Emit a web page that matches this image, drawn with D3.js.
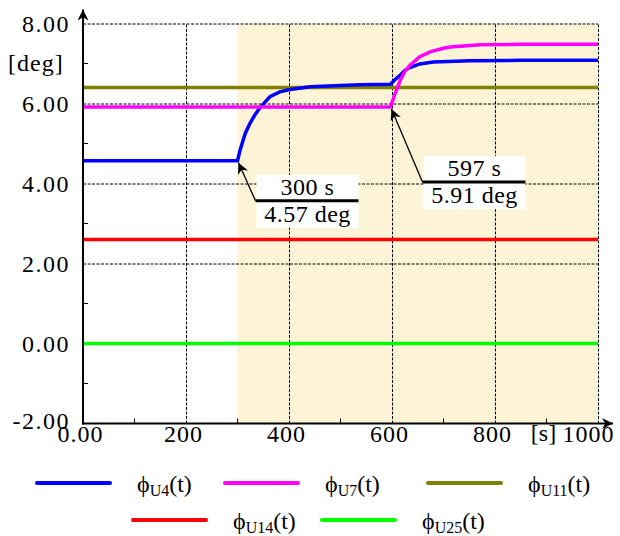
<!DOCTYPE html>
<html>
<head>
<meta charset="utf-8">
<script src="https://cdn.jsdelivr.net/npm/d3@7"></script>
<style>
  body { margin: 0; background: #fff; }
  svg { display: block; }
  svg text { font-family: 'Liberation Serif', 'Times New Roman', Times, serif; }
</style>
</head>
<body>
<div id="chart-area"></div>
<script>
// time axis and series values
const tBlue = [0, 300, 305, 315, 324, 334, 344, 363, 382, 402, 441, 500, 538, 597, 606, 616, 625, 635, 654, 680, 751, 850, 1000]
const vBlue = [4.57, 4.57, 4.83, 5.25, 5.5, 5.72, 5.9, 6.17, 6.29, 6.35, 6.42, 6.45, 6.47, 6.48, 6.6, 6.71, 6.83, 6.9, 6.99, 7.04, 7.07, 7.08, 7.08]
const tMagenta = [0, 597, 606, 616, 625, 635, 654, 674, 700, 713, 771, 850, 1000]
const vMagenta = [5.91, 5.91, 6.25, 6.58, 6.8, 6.96, 7.17, 7.29, 7.38, 7.41, 7.47, 7.48, 7.48]
const tFlat = [0, 1000]
const vOlive = [6.4, 6.4]
const vRed = [2.6, 2.6]
const vGreen = [0, 0]

const seriesNames = ['U4', 'U7', 'U11', 'U14', 'U25']
const seriesColors = ['#0000ff', '#ff00ff', '#808000', '#ff0000', '#00ff00']

const xTicks = [0, 200, 400, 600, 800, 1000]
const yTicks = [-2, 0, 2, 4, 6, 8]
const xMinor = [100, 300, 500, 700, 900]
const yMinor = [-1, 1, 3, 5, 7]

const shadeFrom = 300
const shadeTo = 1000

const annotations = [
    { t: 300, v: 4.57, top: '300 s', bottom: '4.57 deg' },
    { t: 597, v: 5.91, top: '597 s', bottom: '5.91 deg' }
]

const margin = { top: 23.5, right: 22, bottom: 112.5, left: 83 }
const width = 620 - margin.left - margin.right
const height = 536 - margin.top - margin.bottom

const svg = d3.select('#chart-area')
              .append('svg')
              .attr('width', 620)
              .attr('height', 536)

svg.append('defs').append('marker')
   .attr('id', 'arrow')
   .attr('viewBox', '0 0 10 10')
   .attr('refX', 10)
   .attr('refY', 5)
   .attr('markerWidth', 11)
   .attr('markerHeight', 11)
   .attr('markerUnits', 'userSpaceOnUse')
   .attr('orient', 'auto')
   .append('path')
   .attr('d', 'M0,0 L10,5 L0,10 L3,5 Z')
   .attr('fill', '#000')

const g = svg.append('g')
             .attr('transform', 'translate(' + margin.left + ',' + margin.top + ')')

const x = d3.scaleLinear().domain([0, 1000]).range([0, width])
const y = d3.scaleLinear().domain([-2, 8]).range([height, 0])

// shaded interval
g.append('rect')
 .attr('x', x(shadeFrom))
 .attr('y', 0)
 .attr('width', x(shadeTo) - x(shadeFrom))
 .attr('height', height)
 .attr('fill', '#fdf4d7')

// grid
const gridStyle = sel => {
    sel.select('.domain').remove()
    sel.selectAll('line')
       .attr('stroke', '#000')
       .attr('stroke-width', 1)
       .attr('stroke-dasharray', '3,1.5')
    sel.selectAll('text').remove()
}
g.append('g')
 .attr('transform', 'translate(0,' + height + ')')
 .call(d3.axisBottom(x).tickValues(xTicks.slice(1)).tickSize(-height))
 .call(gridStyle)
g.append('g')
 .call(d3.axisLeft(y).tickValues(yTicks.slice(1)).tickSize(-width))
 .call(gridStyle)

// minor ticks
g.append('g')
 .selectAll('line')
 .data(xMinor)
 .enter()
 .append('line')
 .attr('x1', d => x(d)).attr('x2', d => x(d))
 .attr('y1', height).attr('y2', height - 5)
 .attr('stroke', '#000')
g.append('g')
 .selectAll('line')
 .data(yMinor)
 .enter()
 .append('line')
 .attr('x1', 0).attr('x2', 5)
 .attr('y1', d => y(d)).attr('y2', d => y(d))
 .attr('stroke', '#000')

// series
const line = d3.line()
               .x(d => x(d[0]))
               .y(d => y(d[1]))
const series = [
    d3.zip(tFlat, vGreen),
    d3.zip(tFlat, vRed),
    d3.zip(tFlat, vOlive),
    d3.zip(tBlue, vBlue),
    d3.zip(tMagenta, vMagenta)
]
const seriesColorOrder = [seriesColors[4], seriesColors[3], seriesColors[2], seriesColors[0], seriesColors[1]]
g.selectAll('.series')
 .data(series)
 .enter()
 .append('path')
 .attr('class', 'series')
 .attr('d', line)
 .attr('fill', 'none')
 .attr('stroke', (d, i) => seriesColorOrder[i])
 .attr('stroke-width', 3.5)

// axes with arrows
g.append('line')
 .attr('x1', 0).attr('x2', 0)
 .attr('y1', height + 1).attr('y2', -14)
 .attr('stroke', '#000').attr('stroke-width', 2)
 .attr('marker-end', 'url(#arrow)')
g.append('line')
 .attr('x1', -1).attr('x2', width + 15)
 .attr('y1', height).attr('y2', height)
 .attr('stroke', '#000').attr('stroke-width', 2)
 .attr('marker-end', 'url(#arrow)')

// tick labels
const xAxis = g.append('g')
               .attr('transform', 'translate(0,' + height + ')')
               .call(d3.axisBottom(x).tickValues(xTicks).tickSize(0).tickPadding(1)
                       .tickFormat(d => d === 0 ? '0.00' : d))
xAxis.attr('font-family', null).attr('font-size', null)
xAxis.select('.domain').remove()
xAxis.selectAll('text')
     .attr('font-size', '24px')
     .attr('letter-spacing', '1px')
     .attr('fill', '#000')
     .attr('dx', d => d === 1000 ? -10 : -3)

const yAxis = g.append('g')
               .call(d3.axisLeft(y).tickValues(yTicks).tickSize(0).tickPadding(13)
                       .tickFormat(d => d.toFixed(2)))
yAxis.attr('font-family', null).attr('font-size', null)
yAxis.select('.domain').remove()
yAxis.selectAll('text')
     .attr('font-size', '24px')
     .attr('letter-spacing', '1.5px')
     .attr('fill', '#000')
     .attr('dy', d => d === -2 ? '0.22em' : '0.32em')

g.append('text')
 .attr('x', x(900) - 3)
 .attr('y', height + 17)
 .attr('text-anchor', 'middle')
 .attr('font-size', '24px')
 .text('[s]')

g.append('text')
 .attr('x', -75)
 .attr('y', y(7) + 7)
 .attr('font-size', '24px')
 .attr('letter-spacing', '1px')
 .text('[deg]')

// annotations
const notes = g.selectAll('.note')
               .data(annotations)
               .enter()
               .append('g')
               .attr('class', 'note')
const noteOffset = [[18, 40], [32, 75]]
notes.append('rect')
     .attr('x', (d, i) => x(d.t) + noteOffset[i][0] + 1)
     .attr('y', (d, i) => y(d.v) + noteOffset[i][1] - 26)
     .attr('width', 102)
     .attr('height', 53)
     .attr('fill', '#fff')
notes.append('line')
     .attr('x1', (d, i) => x(d.t) + noteOffset[i][0])
     .attr('y1', (d, i) => y(d.v) + noteOffset[i][1])
     .attr('x2', d => x(d.t) + 1)
     .attr('y2', d => y(d.v) + 2)
     .attr('stroke', '#000')
     .attr('stroke-width', 1.3)
     .attr('marker-end', 'url(#arrow)')
notes.append('line')
     .attr('x1', (d, i) => x(d.t) + noteOffset[i][0])
     .attr('x2', (d, i) => x(d.t) + noteOffset[i][0] + 103)
     .attr('y1', (d, i) => y(d.v) + noteOffset[i][1])
     .attr('y2', (d, i) => y(d.v) + noteOffset[i][1])
     .attr('stroke', '#000')
     .attr('stroke-width', 3)
notes.append('text')
     .attr('x', (d, i) => x(d.t) + noteOffset[i][0] + 52)
     .attr('y', (d, i) => y(d.v) + noteOffset[i][1] - 6)
     .attr('text-anchor', 'middle')
     .attr('font-size', '24px')
     .attr('letter-spacing', '0.5px')
     .text(d => d.top)
notes.append('text')
     .attr('x', (d, i) => x(d.t) + noteOffset[i][0] + 52)
     .attr('y', (d, i) => y(d.v) + noteOffset[i][1] + 21)
     .attr('text-anchor', 'middle')
     .attr('font-size', '24px')
     .attr('letter-spacing', '0.5px')
     .text(d => d.bottom)

// legend
const legendPos = [[37, 483], [225, 483], [428, 483], [133, 520], [322, 520]]
const legend = svg.selectAll('.legend')
                  .data(seriesNames)
                  .enter()
                  .append('g')
                  .attr('class', 'legend')
                  .attr('transform', (d, i) => 'translate(' + legendPos[i][0] + ',' + legendPos[i][1] + ')')
legend.append('line')
      .attr('x1', 0).attr('x2', 73)
      .attr('y1', 0).attr('y2', 0)
      .attr('stroke', (d, i) => seriesColors[i])
      .attr('stroke-width', 4)
      .attr('stroke-linecap', 'round')
const lt = legend.append('text')
                 .attr('x', 100)
                 .attr('y', 9)
                 .attr('font-size', '24px')
lt.append('tspan').text('ϕ')
lt.append('tspan').attr('font-size', '16px').attr('dy', 4).text(d => d)
lt.append('tspan').attr('dy', -4).text('(t)')
</script>
</body>
</html>
